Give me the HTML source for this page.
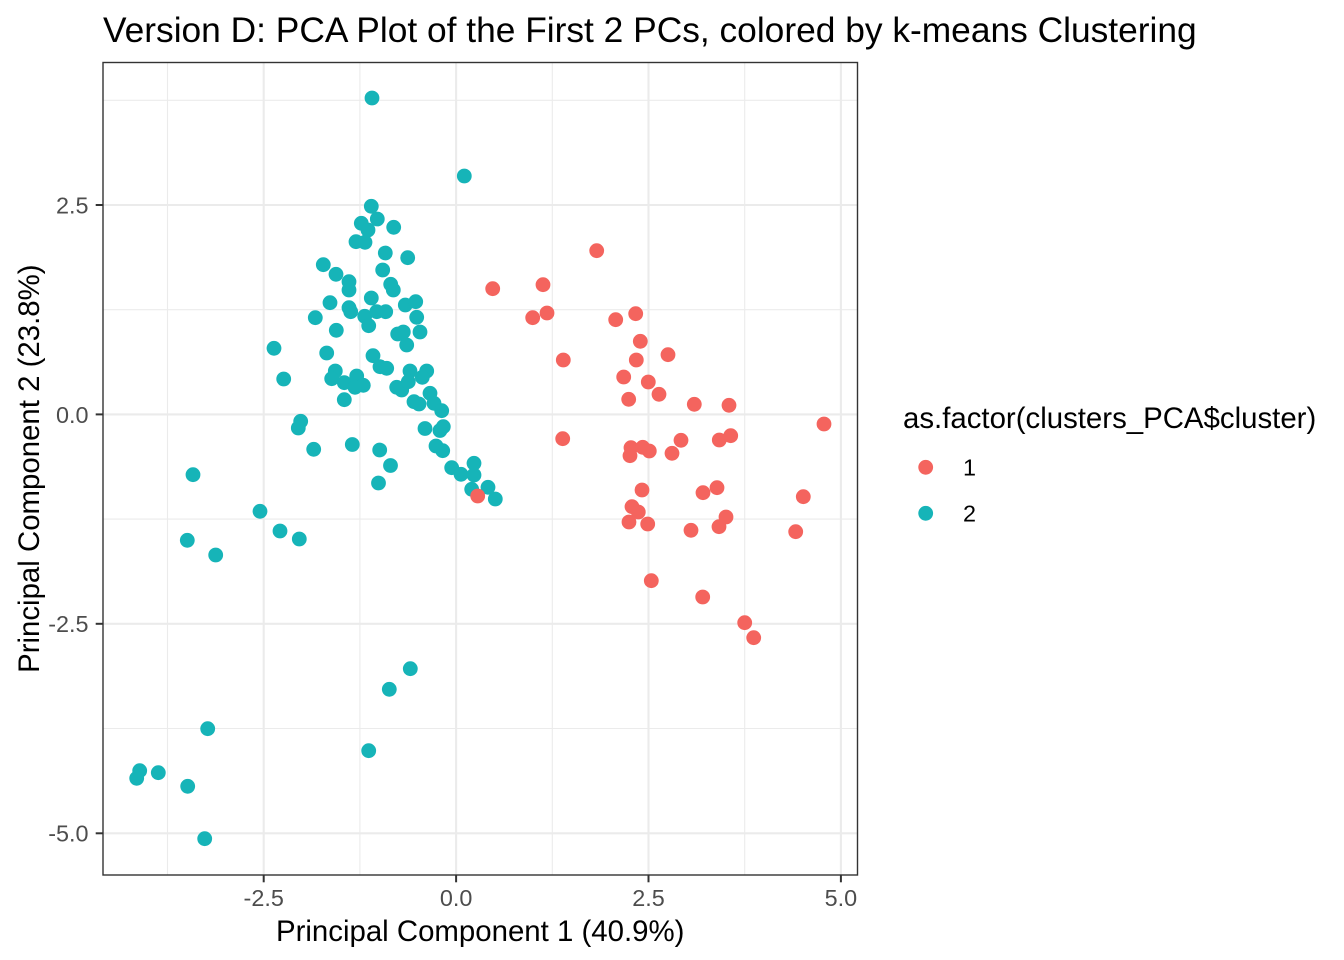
<!DOCTYPE html>
<html>
<head>
<meta charset="utf-8">
<style>
html,body{margin:0;padding:0;background:#fff;}
svg{display:block;}
text{font-family:"Liberation Sans",Arial,sans-serif;}
</style>
</head>
<body>
<svg width="1344" height="960" viewBox="0 0 1344 960" xmlns="http://www.w3.org/2000/svg">
<rect x="0" y="0" width="1344" height="960" fill="#fff"/>
<g stroke="#EBEBEB" stroke-width="1.1">
<line x1="167.5" y1="62.5" x2="167.5" y2="875"/><line x1="359.9" y1="62.5" x2="359.9" y2="875"/>
<line x1="552.3" y1="62.5" x2="552.3" y2="875"/><line x1="744.7" y1="62.5" x2="744.7" y2="875"/>
<line x1="103" y1="100.3" x2="857.5" y2="100.3"/><line x1="103" y1="309.7" x2="857.5" y2="309.7"/>
<line x1="103" y1="519.1" x2="857.5" y2="519.1"/><line x1="103" y1="728.5" x2="857.5" y2="728.5"/>
</g>
<g stroke="#EBEBEB" stroke-width="2.1">
<line x1="263.7" y1="62.5" x2="263.7" y2="875"/><line x1="456.1" y1="62.5" x2="456.1" y2="875"/>
<line x1="648.5" y1="62.5" x2="648.5" y2="875"/><line x1="840.9" y1="62.5" x2="840.9" y2="875"/>
<line x1="103" y1="205" x2="857.5" y2="205"/><line x1="103" y1="414.4" x2="857.5" y2="414.4"/>
<line x1="103" y1="623.8" x2="857.5" y2="623.8"/><line x1="103" y1="833.3" x2="857.5" y2="833.3"/>
</g>
<g fill="#16B4B8">
<circle cx="372" cy="98" r="7.4"/><circle cx="464.3" cy="176" r="7.4"/><circle cx="371.3" cy="206.3" r="7.4"/><circle cx="377.3" cy="219" r="7.4"/>
<circle cx="361.3" cy="223.3" r="7.4"/><circle cx="368" cy="230" r="7.4"/><circle cx="393.7" cy="227.3" r="7.4"/><circle cx="356" cy="241.7" r="7.4"/>
<circle cx="365" cy="242.3" r="7.4"/><circle cx="385.3" cy="253" r="7.4"/><circle cx="407.7" cy="257.7" r="7.4"/><circle cx="323.3" cy="264.7" r="7.4"/>
<circle cx="382.7" cy="270" r="7.4"/><circle cx="336" cy="274.3" r="7.4"/><circle cx="349" cy="281.7" r="7.4"/><circle cx="349" cy="290" r="7.4"/>
<circle cx="390.7" cy="284.3" r="7.4"/><circle cx="393.3" cy="290" r="7.4"/><circle cx="371.3" cy="298" r="7.4"/><circle cx="330" cy="302.7" r="7.4"/>
<circle cx="405.3" cy="305" r="7.4"/><circle cx="415.7" cy="301.7" r="7.4"/><circle cx="349" cy="307.7" r="7.4"/><circle cx="350.7" cy="311.7" r="7.4"/>
<circle cx="315.3" cy="317.7" r="7.4"/><circle cx="364.7" cy="316.3" r="7.4"/><circle cx="376.7" cy="311.7" r="7.4"/><circle cx="385.7" cy="311.7" r="7.4"/>
<circle cx="368.7" cy="325.7" r="7.4"/><circle cx="416.7" cy="317.3" r="7.4"/><circle cx="336.3" cy="330.3" r="7.4"/><circle cx="397.7" cy="334" r="7.4"/>
<circle cx="403.3" cy="332" r="7.4"/><circle cx="420" cy="332" r="7.4"/><circle cx="406.7" cy="345" r="7.4"/><circle cx="274" cy="348.3" r="7.4"/>
<circle cx="326.7" cy="353" r="7.4"/><circle cx="373" cy="355.7" r="7.4"/><circle cx="380" cy="366.7" r="7.4"/><circle cx="386.7" cy="368.3" r="7.4"/>
<circle cx="283.7" cy="379" r="7.4"/><circle cx="335.3" cy="371" r="7.4"/><circle cx="331.7" cy="378.7" r="7.4"/><circle cx="344.3" cy="382.7" r="7.4"/>
<circle cx="356.7" cy="376" r="7.4"/><circle cx="355" cy="387.3" r="7.4"/><circle cx="363.3" cy="385.3" r="7.4"/><circle cx="344.3" cy="399.7" r="7.4"/>
<circle cx="396.7" cy="387.3" r="7.4"/><circle cx="401.7" cy="390" r="7.4"/><circle cx="410" cy="371" r="7.4"/><circle cx="426.7" cy="371" r="7.4"/>
<circle cx="422.3" cy="377.3" r="7.4"/><circle cx="408.3" cy="381.7" r="7.4"/><circle cx="414" cy="401.7" r="7.4"/><circle cx="419" cy="404" r="7.4"/>
<circle cx="430" cy="393.3" r="7.4"/><circle cx="434" cy="403.3" r="7.4"/><circle cx="441.7" cy="410.7" r="7.4"/><circle cx="300.7" cy="421.3" r="7.4"/>
<circle cx="298.3" cy="428" r="7.4"/><circle cx="425" cy="428.5" r="7.4"/><circle cx="440" cy="430.5" r="7.4"/><circle cx="443.3" cy="426.7" r="7.4"/>
<circle cx="436" cy="446" r="7.4"/><circle cx="442.7" cy="450.7" r="7.4"/><circle cx="451.7" cy="467.7" r="7.4"/><circle cx="461" cy="474.3" r="7.4"/>
<circle cx="474" cy="463.3" r="7.4"/><circle cx="474" cy="475" r="7.4"/><circle cx="471.7" cy="489.3" r="7.4"/><circle cx="488" cy="487.3" r="7.4"/>
<circle cx="495.3" cy="499" r="7.4"/><circle cx="352.3" cy="444.5" r="7.4"/><circle cx="379.7" cy="450" r="7.4"/><circle cx="390.5" cy="465.5" r="7.4"/>
<circle cx="378.5" cy="483" r="7.4"/><circle cx="193" cy="474.7" r="7.4"/><circle cx="313.7" cy="449.3" r="7.4"/><circle cx="260" cy="511.3" r="7.4"/>
<circle cx="280" cy="531" r="7.4"/><circle cx="299.3" cy="539" r="7.4"/><circle cx="187.3" cy="540.3" r="7.4"/><circle cx="215.7" cy="555" r="7.4"/>
<circle cx="410.3" cy="668.7" r="7.4"/><circle cx="389.3" cy="689.3" r="7.4"/><circle cx="207.7" cy="728.7" r="7.4"/><circle cx="368.7" cy="750.7" r="7.4"/>
<circle cx="139.7" cy="770.7" r="7.4"/><circle cx="136.7" cy="778.3" r="7.4"/><circle cx="158.3" cy="772.7" r="7.4"/><circle cx="187.7" cy="786.3" r="7.4"/>
<circle cx="204.7" cy="838.7" r="7.4"/>
</g>
<g fill="#F4645E">
<circle cx="596.7" cy="250.7" r="7.4"/><circle cx="492.7" cy="288.7" r="7.4"/><circle cx="543" cy="284.7" r="7.4"/><circle cx="532.7" cy="317.7" r="7.4"/>
<circle cx="547" cy="313" r="7.4"/><circle cx="615.7" cy="319.7" r="7.4"/><circle cx="635.7" cy="313.7" r="7.4"/><circle cx="640.3" cy="341.3" r="7.4"/>
<circle cx="668" cy="354.7" r="7.4"/><circle cx="563.3" cy="360" r="7.4"/><circle cx="636.3" cy="360" r="7.4"/><circle cx="623.7" cy="377" r="7.4"/>
<circle cx="648.3" cy="382" r="7.4"/><circle cx="659" cy="394.3" r="7.4"/><circle cx="628.7" cy="399.3" r="7.4"/><circle cx="694.3" cy="404.3" r="7.4"/>
<circle cx="729" cy="405.3" r="7.4"/><circle cx="824" cy="424" r="7.4"/><circle cx="562.7" cy="438.7" r="7.4"/><circle cx="681" cy="440.3" r="7.4"/>
<circle cx="719.3" cy="440" r="7.4"/><circle cx="730.7" cy="435.7" r="7.4"/><circle cx="631" cy="447.7" r="7.4"/><circle cx="642.7" cy="447.3" r="7.4"/>
<circle cx="649.3" cy="451" r="7.4"/><circle cx="630" cy="455.7" r="7.4"/><circle cx="672" cy="453.3" r="7.4"/><circle cx="642" cy="490" r="7.4"/>
<circle cx="703" cy="492.7" r="7.4"/><circle cx="717" cy="487.7" r="7.4"/><circle cx="803.3" cy="496.7" r="7.4"/><circle cx="477.7" cy="496" r="7.4"/>
<circle cx="632" cy="506.7" r="7.4"/><circle cx="638.3" cy="512" r="7.4"/><circle cx="629" cy="522" r="7.4"/><circle cx="647.7" cy="524" r="7.4"/>
<circle cx="691" cy="530.3" r="7.4"/><circle cx="726" cy="517" r="7.4"/><circle cx="719" cy="526.7" r="7.4"/><circle cx="795.7" cy="531.7" r="7.4"/>
<circle cx="651.3" cy="580.7" r="7.4"/><circle cx="702.7" cy="597" r="7.4"/><circle cx="744.7" cy="622.7" r="7.4"/><circle cx="753.7" cy="637.7" r="7.4"/>
</g>
<rect x="103" y="62.5" width="754.5" height="812.5" fill="none" stroke="#333333" stroke-width="1.4"/>
<g stroke="#333333" stroke-width="2">
<line x1="95.7" y1="205" x2="103" y2="205"/><line x1="95.7" y1="414.4" x2="103" y2="414.4"/>
<line x1="95.7" y1="623.8" x2="103" y2="623.8"/><line x1="95.7" y1="833.3" x2="103" y2="833.3"/>
<line x1="263.7" y1="875" x2="263.7" y2="882.3"/><line x1="456.1" y1="875" x2="456.1" y2="882.3"/>
<line x1="648.5" y1="875" x2="648.5" y2="882.3"/><line x1="840.9" y1="875" x2="840.9" y2="882.3"/>
</g>
<g font-size="23.4" fill="#4D4D4D">
<text x="88.5" y="213.4" text-anchor="end">2.5</text>
<text x="88.5" y="622.8" text-anchor="end" dy="-200">0.0</text>
<text x="88.5" y="632.2" text-anchor="end">-2.5</text>
<text x="88.5" y="841.7" text-anchor="end">-5.0</text>
<text x="263.7" y="906" text-anchor="middle">-2.5</text>
<text x="456.1" y="906" text-anchor="middle">0.0</text>
<text x="648.5" y="906" text-anchor="middle">2.5</text>
<text x="840.9" y="906" text-anchor="middle">5.0</text>
</g>
<text x="480.2" y="941" text-anchor="middle" font-size="29.4" fill="#000">Principal Component 1 (40.9%)</text>
<text transform="translate(39,468.7) rotate(-90)" x="0" y="0" text-anchor="middle" font-size="29.4" fill="#000">Principal Component 2 (23.8%)</text>
<text x="103" y="42" font-size="35.35" fill="#000">Version D: PCA Plot of the First 2 PCs, colored by k-means Clustering</text>
<text x="903" y="428" font-size="29.4" fill="#000">as.factor(clusters_PCA$cluster)</text>
<circle cx="925.7" cy="467.3" r="7.4" fill="#F4645E"/>
<circle cx="925.7" cy="513.3" r="7.4" fill="#16B4B8"/>
<text x="963" y="475.6" font-size="23.4" fill="#000">1</text>
<text x="963" y="521.6" font-size="23.4" fill="#000">2</text>
</svg>
</body>
</html>
